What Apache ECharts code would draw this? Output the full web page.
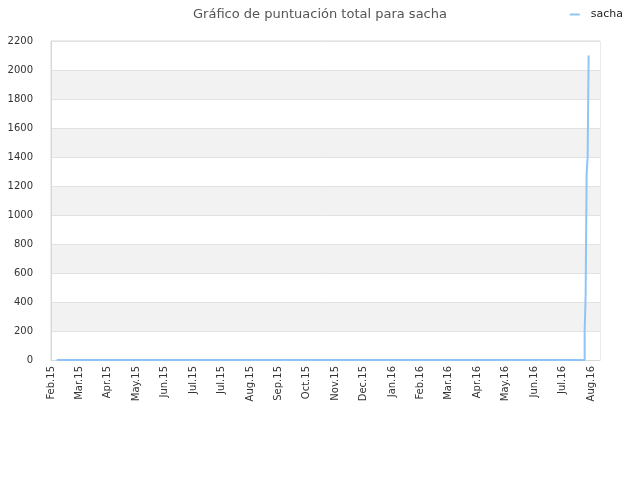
<!DOCTYPE html>
<html>
<head>
<meta charset="utf-8">
<script src="https://cdn.jsdelivr.net/npm/echarts@6/dist/echarts.min.js"></script>
<style>
  html, body { margin: 0; padding: 0; background: #fff; }
  #chart { width: 640px; height: 480px; }
</style>
</head>
<body>
<div id="chart"></div>
<script>
// tick labels along the x axis, one per step of 1
var tickLabels = ['Feb.15', 'Mar.15', 'Apr.15', 'May.15', 'Jun.15', 'Jul.15', 'Jul.15',
    'Aug.15', 'Sep.15', 'Oct.15', 'Nov.15', 'Dec.15', 'Jan.16', 'Feb.16', 'Mar.16',
    'Apr.16', 'May.16', 'Jun.16', 'Jul.16', 'Aug.16'];

// x positions in tick units, and total score at each
var xPos   = [0.2, 18.78, 18.78, 18.815, 18.815, 18.85, 18.85, 18.885, 18.885, 18.92, 18.92];
var scores = [0,   0,     200,   200,    455,    455,   1283,  1283,   1405,   1405,  2100];

var points = [];
for (var i = 0; i < xPos.length; i++) {
    points.push([xPos[i], scores[i]]);
}

var myChart = echarts.init(document.getElementById('chart'));
myChart.setOption({
    animation: false,
    textStyle: { fontFamily: 'DejaVu Sans' },
    title: {
        text: 'Gráfico de puntuación total para sacha',
        left: 'center',
        top: 3,
        textStyle: { fontSize: 13, fontWeight: 'normal', color: '#555', fontFamily: 'DejaVu Sans' }
    },
    legend: {
        right: 12,
        top: 4,
        itemWidth: 10,
        itemHeight: 2,
        itemGap: 5,
        icon: 'rect',
        textStyle: { fontSize: 11, color: '#222', padding: [0, 0, 0, 6] },
        data: ['sacha']
    },
    grid: {
        left: 51, right: 40, top: 41, bottom: 120,
        show: true, borderColor: '#d8d8d8', borderWidth: 1
    },
    xAxis: {
        type: 'value',
        min: 0,
        max: 19.32,
        interval: 1,
        axisLine: { show: true, onZero: false, lineStyle: { color: '#d8d8d8' } },
        axisTick: { show: false },
        splitLine: { show: false },
        axisLabel: {
            rotate: 90,
            fontSize: 10,
            color: '#333',
            margin: 6,
            showMaxLabel: false,
            formatter: function (v) {
                var k = Math.round(v);
                return Math.abs(v - k) < 1e-6 && tickLabels[k] ? tickLabels[k] : '';
            }
        }
    },
    yAxis: {
        type: 'value',
        min: 0,
        max: 2200,
        interval: 200,
        axisLine: { show: true, lineStyle: { color: '#d8d8d8' } },
        axisTick: { show: false },
        axisLabel: {
            fontSize: 10,
            color: '#333',
            margin: 18,
            formatter: function (v) { return String(v); }
        },
        splitLine: { show: true, lineStyle: { color: '#e2e2e2' } },
        splitArea: { show: true, areaStyle: { color: ['#ffffff', '#f2f2f2'] } }
    },
    series: [{
        name: 'sacha',
        type: 'line',
        data: points,
        showSymbol: false,
        symbol: 'none',
        lineStyle: { color: '#90c4f4', width: 2 },
        itemStyle: { color: '#90c4f4' }
    }]
});
</script>
</body>
</html>
